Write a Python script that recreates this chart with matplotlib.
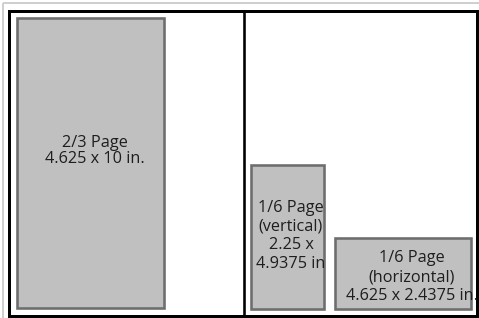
import matplotlib.pyplot as plt
from matplotlib.patches import Rectangle

# ad sizes shown on the page layout
ad_names = ['2/3 Page', '1/6 Page\n(vertical)', '1/6 Page\n(horizontal)']
ad_sizes = ['4.625 x 10 in.', '2.25 x\n4.9375 in', '4.625 x 2.4375 in.']

# box layout in pixels (left, top, right, bottom) and text placement
boxes = [(17.5, 17.5, 164, 307.5), (251, 164.5, 324, 309), (335, 238, 471.5, 309)]
text_x = [95, 291, 412]
text_base = [147, 212, 262]
line_step = [16, 18.7, 19]


def main():
    W, H = 479, 318
    fig = plt.figure(figsize=(W / 100, H / 100), dpi=100)
    ax = fig.add_axes([0, 0, 1, 1])
    ax.set_xlim(0, W)
    ax.set_ylim(H, 0)
    ax.axis('off')

    px = 72 / 100  # pixel -> points

    # faint outer border (top and left)
    ax.plot([3, 3], [H, 3], color='#cfcfcf', lw=2 * px, solid_capstyle='butt')
    ax.plot([3, W], [3, 3], color='#cfcfcf', lw=2 * px, solid_capstyle='butt')

    # black page frame and the column divider
    ax.add_patch(Rectangle((9.5, 10.5), 477 - 9.5, 315.5 - 10.5, facecolor='none',
                           edgecolor='black', lw=3 * px, zorder=3))
    ax.plot([244, 244], [10.5, 315.5], color='black', lw=2.6 * px, zorder=3)

    for i, (x0, y0, x1, y1) in enumerate(boxes):
        ax.add_patch(Rectangle((x0, y0), x1 - x0, y1 - y0, facecolor='#c0c0c0',
                               edgecolor='#6e6e6e', lw=2.6 * px, zorder=1))
        lines = (ad_names[i] + '\n' + ad_sizes[i]).split('\n')
        for k, line in enumerate(lines):
            ax.text(text_x[i], text_base[i] + k * line_step[i], line, ha='center', va='baseline',
                    fontsize=11.7, family='Open Sans', color='#1e1e1e', zorder=4)

    fig.savefig('out.png', dpi=100)


if __name__ == "__main__":
    main()
